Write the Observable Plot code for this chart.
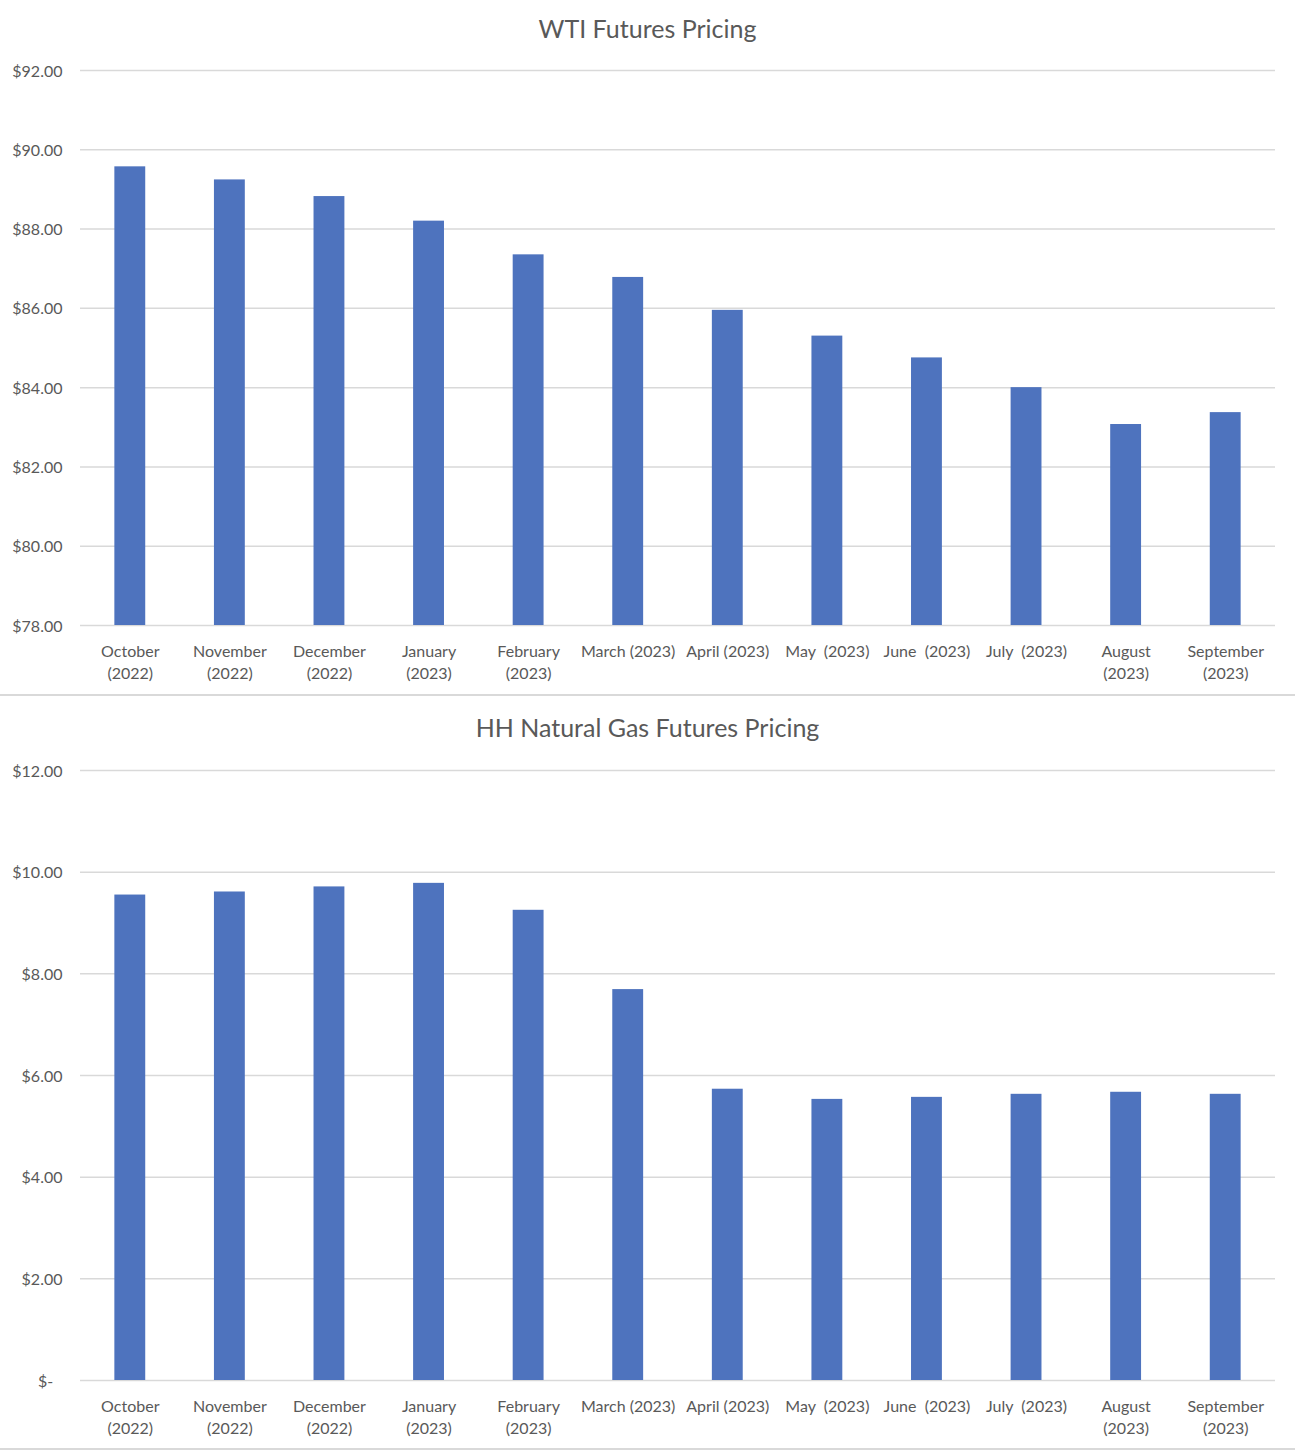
<!DOCTYPE html>
<html>
<head>
<meta charset="utf-8">
<script src="https://cdn.jsdelivr.net/npm/d3@7"></script>
<script src="https://cdn.jsdelivr.net/npm/@observablehq/plot@0.6"></script>
<style>
  html, body { margin: 0; padding: 0; background: #fff; }
  body { width: 1295px; height: 1451px; position: relative; font-family: Lato, "Open Sans", sans-serif; }
  .panel { position: absolute; left: 0; width: 1295px; }
  .title { position: absolute; left: 0; width: 1295px; text-align: center; font-size: 25px; color: #595959; }
  .sep { position: absolute; left: 0; width: 1295px; height: 0; border-top: 2px solid #d9d9d9; }
  svg { position: absolute; left: 0; }
</style>
</head>
<body>
<div id="wti" class="panel" style="top:0;height:695px">
  <div class="title" style="top:13px">WTI Futures Pricing</div>
</div>
<div class="sep" style="top:694px"></div>
<div id="hh" class="panel" style="top:697px;height:752px">
  <div class="title" style="top:15px">HH Natural Gas Futures Pricing</div>
</div>
<div class="sep" style="top:1448px"></div>
<script>
const months = [
  "October\n(2022)", "November\n(2022)", "December\n(2022)", "January\n(2023)",
  "February\n(2023)", "March (2023)", "April (2023)", "May  (2023)",
  "June  (2023)", "July  (2023)", "August\n(2023)", "September\n(2023)"
];
const wtiPrices = [89.57, 89.24, 88.82, 88.20, 87.35, 86.78, 85.95, 85.30, 84.75, 84.00, 83.07, 83.37];
const hhPrices  = [9.55, 9.61, 9.71, 9.78, 9.25, 7.69, 5.73, 5.53, 5.57, 5.63, 5.67, 5.63];
const wtiTicks = [78, 80, 82, 84, 86, 88, 90, 92];
const hhTicks  = [0, 2, 4, 6, 8, 10, 12];

const barColor = "#4E73BE";
const gridColor = "#d9d9d9";
const textColor = "#595959";

function makeChart(values, ticks, fmt, height) {
  const data = months.map((m, i) => ({month: m, value: values[i], base: ticks[0]}));
  return Plot.plot({
    width: 1295,
    height,
    marginLeft: 80,
    marginRight: 20,
    marginTop: 20,
    marginBottom: 62,
    style: {fontFamily: "Lato, 'Open Sans', sans-serif", fontSize: "16px", color: textColor, background: "transparent"},
    x: {domain: months, paddingInner: 0.69, paddingOuter: 0.345, round: false},
    y: {domain: [ticks[0], ticks[ticks.length - 1]]},
    marks: [
      Plot.gridY(ticks, {stroke: gridColor, strokeOpacity: 1, strokeWidth: 1.5}),
      Plot.barY(data, {x: "month", y1: "base", y2: "value", fill: barColor}),
      Plot.axisY(ticks, {tickSize: 0, tickPadding: 18, dy: 1, tickFormat: fmt, fill: textColor, fontSize: 16, label: null}),
      Plot.axisX({tickSize: 0, tickPadding: 16, fill: textColor, fontSize: 16, lineHeight: 1.38, label: null})
    ]
  });
}

const wtiChart = makeChart(wtiPrices, wtiTicks, d => "$" + d.toFixed(2), 637);
wtiChart.style.top = "50px";
document.getElementById("wti").appendChild(wtiChart);

const hhChart = makeChart(hhPrices, hhTicks, d => d === 0 ? "$-\u2007" : "$" + d.toFixed(2), 692);
hhChart.style.top = "53px";
document.getElementById("hh").appendChild(hhChart);
</script>
</body>
</html>
